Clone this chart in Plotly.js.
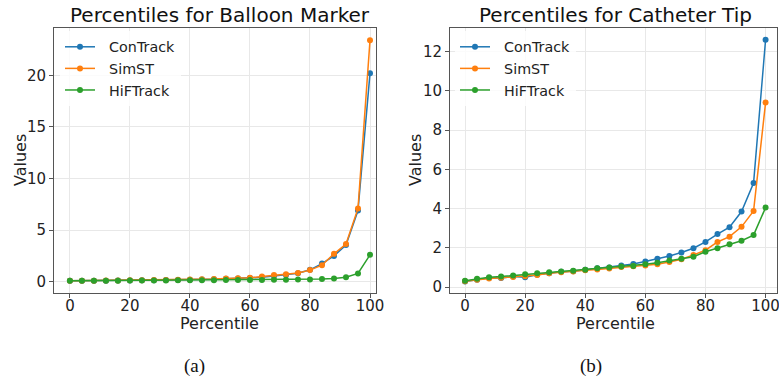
<!DOCTYPE html>
<html>
<head>
<meta charset="utf-8">
<script src="https://cdn.plot.ly/plotly-3.0.1.min.js"></script>
<style>html,body{margin:0;padding:0;background:#fff;} #chart{width:779px;height:385px;}</style>
</head>
<body>
<div id="chart"></div>
<script>
const percentiles = [0,4,8,12,16,20,24,28,32,36,40,44,48,52,56,60,64,68,72,76,80,84,88,92,96,100];

const balloonConTrack = [0.08,0.09,0.1,0.1,0.11,0.12,0.13,0.14,0.15,0.17,0.19,0.21,0.24,0.27,0.3,0.35,0.42,0.55,0.65,0.82,1.15,1.75,2.5,3.55,6.9,20.2];
const balloonSimST    = [0.08,0.09,0.1,0.11,0.12,0.13,0.14,0.15,0.17,0.19,0.21,0.23,0.26,0.3,0.33,0.37,0.5,0.64,0.72,0.85,1.12,1.6,2.7,3.65,7.1,23.4];
const balloonHiFTrack = [0.08,0.09,0.1,0.1,0.1,0.11,0.11,0.12,0.12,0.13,0.13,0.14,0.14,0.15,0.15,0.16,0.17,0.18,0.19,0.2,0.22,0.25,0.3,0.42,0.8,2.6];

const catheterConTrack = [0.29,0.37,0.46,0.46,0.54,0.5,0.63,0.71,0.78,0.81,0.88,0.96,1.0,1.1,1.18,1.3,1.44,1.59,1.76,1.98,2.3,2.7,3.05,3.85,5.3,12.6];
const catheterSimST    = [0.3,0.38,0.44,0.48,0.52,0.55,0.62,0.7,0.76,0.8,0.86,0.9,0.95,1.02,1.06,1.1,1.17,1.28,1.42,1.64,1.88,2.3,2.57,3.07,3.88,9.4];
const catheterHiFTrack = [0.32,0.42,0.5,0.54,0.59,0.66,0.71,0.76,0.8,0.83,0.88,0.96,1.0,1.05,1.08,1.16,1.24,1.35,1.45,1.55,1.8,1.98,2.18,2.36,2.65,4.05];

const seriesNames = ['ConTrack','SimST','HiFTrack'];
const seriesColors = ['#1f77b4','#ff7f0e','#2ca02c'];
const xTicks = [0,20,40,60,80,100];
const yTicksBalloon = [0,5,10,15,20];
const yTicksCatheter = [0,2,4,6,8,10,12];
const titles = ['Percentiles for Balloon Marker','Percentiles for Catheter Tip'];
const xTitle = 'Percentile';
const yTitle = 'Values';
const captions = ['(a)','(b)'];

const W = 779, H = 385;
const px = v => v / W;
const py = v => 1 - v / H;

const FONT = 'DejaVu Sans, sans-serif';
const GAP = '\u00A0\u00A0';
function mk(y, i, xa, ya, leg) {
  return {
    x: percentiles, y: y, name: GAP + seriesNames[i], xaxis: xa, yaxis: ya, legend: leg,
    type: 'scatter', mode: 'lines+markers',
    line: {color: seriesColors[i], width: 1.5},
    marker: {color: seriesColors[i], size: 6}
  };
}
const traces = [
  mk(balloonConTrack,0,'x','y','legend'),
  mk(balloonSimST,1,'x','y','legend'),
  mk(balloonHiFTrack,2,'x','y','legend'),
  mk(catheterConTrack,0,'x2','y2','legend2'),
  mk(catheterSimST,1,'x2','y2','legend2'),
  mk(catheterHiFTrack,2,'x2','y2','legend2')
];

function axisCommon() {
  return {
    showline: true, mirror: true, linecolor: '#555', linewidth: 1,
    ticks: 'outside', ticklen: 4, tickcolor: '#555', tickwidth: 1,
    showgrid: true, gridcolor: '#e8e8e8', gridwidth: 1,
    zeroline: false, tickfont: {family: FONT, size: 15, color: '#222'},
    automargin: false, ticklabeloverflow: 'allow'
  };
}
const yDom = [1 - 293/H, 1 - 28/H];

function ann(text, x, y, size, extra) {
  return Object.assign({text: text, xref: 'paper', yref: 'paper', x: px(x), y: py(y), xanchor: 'center', yanchor: 'middle',
    showarrow: false, font: {family: FONT, size: size, color: '#111'}}, extra || {});
}

const layout = {
  width: W, height: H,
  margin: {l: 0, r: 0, t: 0, b: 0},
  paper_bgcolor: '#fff', plot_bgcolor: '#fff',
  showlegend: true,
  xaxis: Object.assign(axisCommon(), {domain: [px(54), px(376)], range: [-5.3, 102], tickvals: xTicks, anchor: 'y', ticklabelstandoff: -5}),
  yaxis: Object.assign(axisCommon(), {domain: yDom, range: [-1.1, 24.6], tickvals: yTicksBalloon, anchor: 'x'}),
  xaxis2: Object.assign(axisCommon(), {domain: [px(450), px(777)], range: [-5, 103.8], tickvals: xTicks, anchor: 'y2', ticklabelstandoff: -5}),
  yaxis2: Object.assign(axisCommon(), {domain: yDom, range: [-0.3, 13.2], tickvals: yTicksCatheter, anchor: 'x2'}),
  legend: {x: px(60), y: py(31), xanchor: 'left', yanchor: 'top', bgcolor: 'rgba(255,255,255,0.8)', borderwidth: 0,
    font: {family: FONT, size: 14.3, color: '#222'}},
  legend2: {x: px(455), y: py(31), xanchor: 'left', yanchor: 'top', bgcolor: 'rgba(255,255,255,0.8)', borderwidth: 0,
    font: {family: FONT, size: 14.3, color: '#222'}},
  annotations: [
    ann(titles[0], 220, 15, 20),
    ann(titles[1], 615, 15, 20),
    ann(xTitle, 220, 323.5, 16, {font: {family: FONT, size: 16, color: '#222'}}),
    ann(xTitle, 615, 323.5, 16, {font: {family: FONT, size: 16, color: '#222'}}),
    ann(yTitle, 20, 160, 16, {textangle: -90, font: {family: FONT, size: 16, color: '#222'}}),
    ann(yTitle, 415, 160, 16, {textangle: -90, font: {family: FONT, size: 16, color: '#222'}}),
    ann(captions[0], 194, 366, 19, {font: {family: 'Liberation Serif, serif', size: 19, color: '#111'}}),
    ann(captions[1], 591, 366, 19, {font: {family: 'Liberation Serif, serif', size: 19, color: '#111'}})
  ]
};

Plotly.newPlot('chart', traces, layout, {staticPlot: true, displayModeBar: false});
</script>
</body>
</html>
